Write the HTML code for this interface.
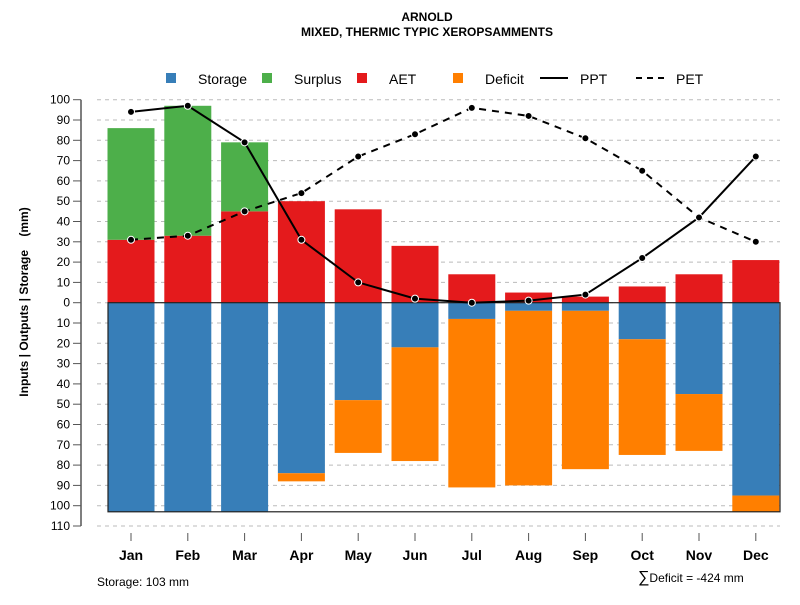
<!DOCTYPE html>
<html><head><meta charset="utf-8"><style>
body{margin:0;background:#fff;font-family:"Liberation Sans",sans-serif}
</style></head><body>
<svg id="c" width="800" height="600" xmlns="http://www.w3.org/2000/svg" font-family="Liberation Sans, sans-serif">
<text x="427" y="21" text-anchor="middle" font-size="12" font-weight="bold">ARNOLD</text>
<text x="427" y="36" text-anchor="middle" font-size="12" font-weight="bold">MIXED, THERMIC TYPIC XEROPSAMMENTS</text>
<g id="grid"></g><g id="bars"></g><g id="lines"></g><g id="axes"></g>
<g font-size="14">
<rect x="166" y="73" width="10" height="10" fill="#377EB8"/><text x="198" y="84">Storage</text>
<rect x="262" y="73" width="10" height="10" fill="#4DAF4A"/><text x="294" y="84">Surplus</text>
<rect x="357" y="73" width="10" height="10" fill="#E41A1C"/><text x="389" y="84">AET</text>
<rect x="453" y="73" width="10" height="10" fill="#FF7F00"/><text x="485" y="84">Deficit</text>
<line x1="540" y1="78" x2="568" y2="78" stroke="#000" stroke-width="2"/><text x="580" y="84">PPT</text>
<line x1="636" y1="78" x2="664" y2="78" stroke="#000" stroke-width="2" stroke-dasharray="6,5"/><text x="676" y="84">PET</text>
</g>
<text transform="translate(28,302) rotate(-90)" text-anchor="middle" font-size="12" font-weight="bold">Inputs | Outputs | Storage&#160;&#160;&#160;&#160;(mm)</text>
<text x="97" y="586" font-size="12">Storage: 103 mm</text>
<text x="638" y="582" font-size="12"><tspan font-size="16">∑</tspan>Deficit = -424 mm</text>
</svg>
<script>
const months=["Jan","Feb","Mar","Apr","May","Jun","Jul","Aug","Sep","Oct","Nov","Dec"];
const aet=[31,33,45,50,46,28,14,5,3,8,14,21];
const surplus=[55,64,34,0,0,0,0,0,0,0,0,0];
const storage=[103,103,103,84,48,22,8,4,4,18,45,95];
const deficit=[0,0,0,4,26,56,83,86,78,57,28,8];
const ppt=[94,97,79,31,10,2,0,1,4,22,42,72];
const pet=[31,33,45,54,72,83,96,92,81,65,42,30];
const yTicks=[100,90,80,70,60,50,40,30,20,10,0,-10,-20,-30,-40,-50,-60,-70,-80,-90,-100,-110];
const NS="http://www.w3.org/2000/svg";
const y=v=>302.7-v*2.03;
const x=i=>131+i*56.8;
const bw=47;
function mk(t,a,p){const e=document.createElementNS(NS,t);for(const k in a)e.setAttribute(k,a[k]);p.appendChild(e);return e;}
const G=document.getElementById('grid'),B=document.getElementById('bars'),L=document.getElementById('lines'),A=document.getElementById('axes');
yTicks.forEach(v=>{
 const g=mk('line',{x1:97,x2:780,y1:y(v),y2:y(v),stroke:'#bbb','stroke-dasharray':'4,4'},G);
 
 
 const t=mk('line',{x1:73,x2:81,y1:y(v),y2:y(v),stroke:'#555'},A);
 
 
 const l=mk('text',{x:70,y:y(v)+4,'text-anchor':'end','font-size':12},A);
 
 
 l.textContent=Math.abs(v);
});
const ax=mk('line',{x1:81,x2:81,y1:y(100),y2:y(-110),stroke:'#555','stroke-width':1.5},A);


months.forEach((m,i)=>{
 const cx=x(i),l=cx-bw/2;
 const r1=mk('rect',{x:l,y:y(aet[i]),width:bw,height:y(0)-y(aet[i]),fill:'#E41A1C'},B);
 
 
 if(surplus[i]>0){const r=mk('rect',{x:l,y:y(aet[i]+surplus[i]),width:bw,height:y(aet[i])-y(aet[i]+surplus[i]),fill:'#4DAF4A'},B);
 
 }
 const r2=mk('rect',{x:l,y:y(0),width:bw,height:y(-storage[i])-y(0),fill:'#377EB8'},B);
 
 
 if(deficit[i]>0){const r=mk('rect',{x:l,y:y(-storage[i]),width:bw,height:y(-storage[i]-deficit[i])-y(-storage[i]),fill:'#FF7F00'},B);
 
 }
 const t=mk('line',{x1:cx,x2:cx,y1:533,y2:541,stroke:'#555'},A);
 
 
 const tl=mk('text',{x:cx,y:560,'text-anchor':'middle','font-size':14,'font-weight':'bold'},A);
 
 
 tl.textContent=m;
});
const box=mk('rect',{x:108,y:y(0),width:672,height:y(-103)-y(0),fill:'none',stroke:'#222','stroke-width':1.2},B);


function series(d,name,dash){
 const p=mk('polyline',{points:d.map((v,i)=>x(i)+','+y(v)).join(' '),fill:'none',stroke:'#000','stroke-width':2,'stroke-dasharray':dash},L);
 
 
 d.forEach((v,i)=>{const c=mk('circle',{cx:x(i),cy:y(v),r:3.5,fill:'#000',stroke:'#fff','stroke-width':1},L);
 
 });
}
series(ppt,'ppt','none');
series(pet,'pet','7,6');
</script>
</body></html>
